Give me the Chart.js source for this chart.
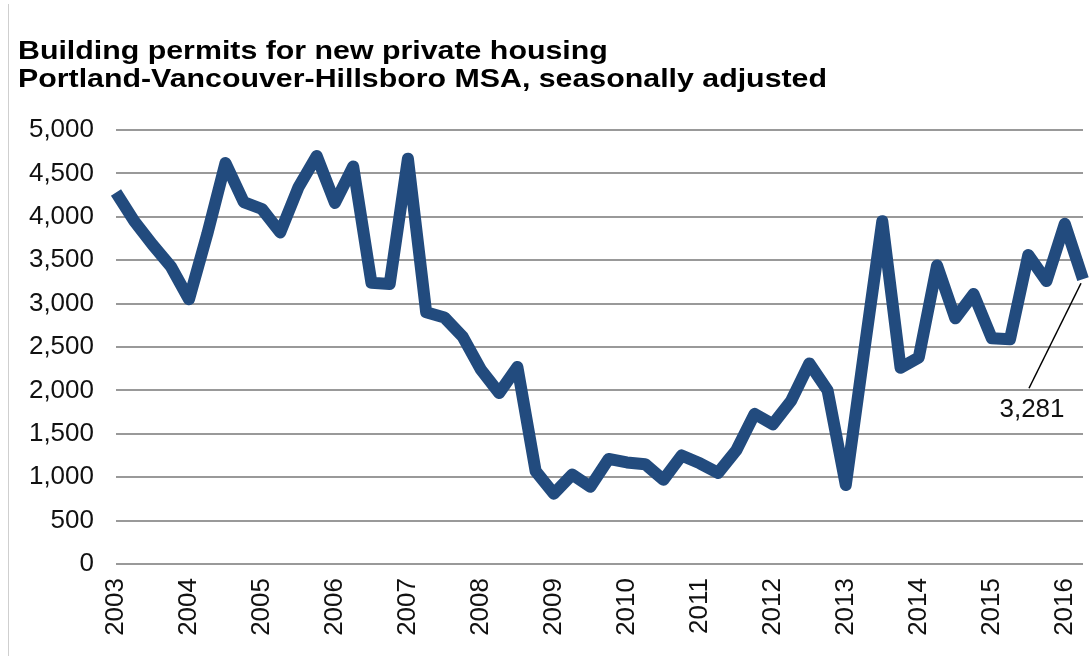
<!DOCTYPE html>
<html>
<head>
<meta charset="utf-8">
<title>Building permits for new private housing</title>
<script src="https://cdn.jsdelivr.net/npm/chart.js@4.4.1/dist/chart.umd.min.js"></script>
<style>
    html, body { margin: 0; padding: 0; background: #fff; }
    #wrap { position: relative; width: 1089px; height: 656px; }
    #frame { position: absolute; left: 8px; top: 4px; width: 0; height: 652px; border-left: 1px solid #cfcfcf; }
</style>
</head>
<body>
<div id="wrap">
    <div id="frame"></div>
    <canvas id="permitsChart"></canvas>
</div>
<script>
// quarterly permits, 2003 Q1 through 2016 Q2
var years = [2003, 2004, 2005, 2006, 2007, 2008, 2009, 2010, 2011, 2012, 2013, 2014, 2015, 2016];
var quarterNames = ['Q1', 'Q2', 'Q3', 'Q4'];
var permits = [
    4280, 3950, 3680, 3430,
    3050, 3800, 4620, 4170,
    4090, 3820, 4340, 4700,
    4160, 4580, 3240, 3225,
    4670, 2900, 2840, 2620,
    2240, 1970, 2270, 1070,
    810, 1030, 890, 1210,
    1170, 1150, 970, 1250,
    1160, 1050, 1310, 1730,
    1610, 1880, 2310, 2000,
    910, 2440, 3950, 2260,
    2380, 3440, 2830, 3110,
    2600, 2590, 3560, 3260,
    3920, 3281
];
var yTicks = [0, 500, 1000, 1500, 2000, 2500, 3000, 3500, 4000, 4500, 5000];
var titleLines = [
    'Building permits for new private housing',
    'Portland-Vancouver-Hillsboro MSA, seasonally adjusted'
];
var lastLabel = '3,281';

var quarters = [];
years.forEach(function (y) {
    quarterNames.forEach(function (q) {
        if (quarters.length < permits.length) quarters.push(y + ' ' + q);
    });
});

Chart.defaults.font.family = '"Liberation Sans", Arial, sans-serif';
Chart.defaults.font.size = 26;
Chart.defaults.color = '#111';

// two-line bold heading, stretched a little wider than the plain font
var titlePlugin = {
    id: 'titleText',
    afterDraw: function (chart) {
        var ctx = chart.ctx;
        ctx.save();
        ctx.fillStyle = '#000';
        ctx.font = 'bold 25px "Liberation Sans", Arial, sans-serif';
        ctx.textBaseline = 'alphabetic';
        ctx.textAlign = 'left';
        var stretch = 809 / ctx.measureText(titleLines[1]).width;
        ctx.translate(18, 0);
        ctx.scale(stretch, 1);
        ctx.fillText(titleLines[0], 0, 59);
        ctx.fillText(titleLines[1], 0, 87);
        ctx.restore();
    }
};

// callout for the most recent quarter
var calloutPlugin = {
    id: 'lastCallout',
    afterDatasetsDraw: function (chart) {
        var meta = chart.getDatasetMeta(0);
        var pt = meta.data[meta.data.length - 1];
        var ctx = chart.ctx;
        ctx.save();
        ctx.strokeStyle = '#000';
        ctx.lineWidth = 1.5;
        ctx.beginPath();
        ctx.moveTo(pt.x - 2, pt.y + 4);
        ctx.lineTo(pt.x - 54, pt.y + 109);
        ctx.stroke();
        ctx.fillStyle = '#111';
        ctx.font = '26px "Liberation Sans", Arial, sans-serif';
        ctx.textAlign = 'center';
        ctx.textBaseline = 'middle';
        ctx.fillText(lastLabel, pt.x - 51, pt.y + 131);
        ctx.restore();
    }
};

var ctx = document.getElementById('permitsChart').getContext('2d');
new Chart(ctx, {
    type: 'line',
    data: {
        labels: quarters,
        datasets: [{
            label: 'Permits',
            data: permits,
            borderColor: '#224b7e',
            borderWidth: 12,
            borderJoinStyle: 'round',
            borderCapStyle: 'butt',
            pointRadius: 0,
            tension: 0,
            fill: false
        }]
    },
    options: {
        responsive: true,
        maintainAspectRatio: false,
        animation: false,
        layout: { padding: { top: 130, right: 6, bottom: 0, left: 0 } },
        plugins: {
            legend: { display: false },
            tooltip: { enabled: false }
        },
        scales: {
            x: {
                offset: false,
                grid: { display: false, drawTicks: false },
                border: { display: false },
                afterFit: function (scale) {
                    scale.height = 92;
                    scale.paddingLeft = 0;
                    scale.paddingRight = 0;
                },
                ticks: {
                    autoSkip: false,
                    maxRotation: 90,
                    minRotation: 90,
                    padding: 14,
                    callback: function (value, index) {
                        return index % 4 === 0 ? String(years[index / 4]) : '';
                    }
                }
            },
            y: {
                min: 0,
                max: 5000,
                afterFit: function (scale) {
                    scale.width = 116;
                    scale.paddingTop = 0;
                    scale.paddingBottom = 0;
                },
                afterBuildTicks: function (scale) {
                    scale.ticks = yTicks.map(function (v) { return { value: v }; });
                },
                grid: { color: '#999', lineWidth: 2, drawTicks: false },
                border: { display: false },
                ticks: {
                    padding: 22,
                    callback: function (value) { return value.toLocaleString('en-US'); }
                }
            }
        }
    },
    plugins: [titlePlugin, calloutPlugin]
});
</script>
</body>
</html>
